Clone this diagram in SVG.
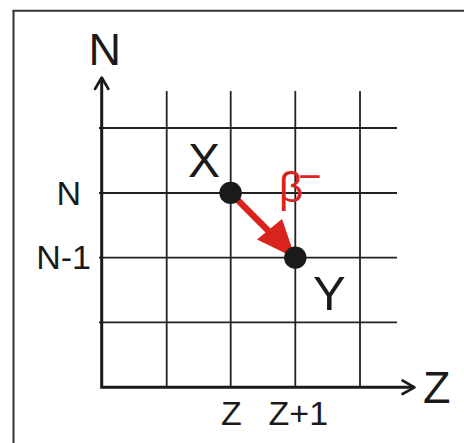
<svg xmlns="http://www.w3.org/2000/svg" width="464" height="443" viewBox="0 0 464 443">
  <style>
    .frame { stroke: #333; stroke-width: 2; fill: none; }
    .grid { stroke: #222; stroke-width: 1.8; fill: none; }
    .axis { stroke: #1a1a1a; stroke-width: 3; fill: none; }
    .chev { stroke: #1a1a1a; stroke-width: 2.6; fill: none; stroke-linecap: round; stroke-linejoin: round; }
    .lbl { font-family: "Liberation Sans", Arial, sans-serif; fill: #1a1a1a; }
    .dot { fill: #1a1a1a; }
    .red { fill: #d8231f; }
  </style>
  <rect width="464" height="443" fill="#fff"/>
  <g id="frame">
    <line class="frame" x1="13.5" y1="443" x2="13.5" y2="10.8"/>
    <line class="frame" x1="12.5" y1="10.8" x2="464" y2="10.8"/>
  </g>
  <g id="grid">
    <line class="grid" x1="166.7" y1="91" x2="166.7" y2="387.3"/>
    <line class="grid" x1="230.7" y1="91" x2="230.7" y2="387.3"/>
    <line class="grid" x1="295.3" y1="91" x2="295.3" y2="387.3"/>
    <line class="grid" x1="360" y1="91" x2="360" y2="387.3"/>
    <line class="grid" x1="99" y1="128" x2="397" y2="128"/>
    <line class="grid" x1="99" y1="193" x2="397" y2="193"/>
    <line class="grid" x1="99" y1="257.7" x2="397" y2="257.7"/>
    <line class="grid" x1="99" y1="322.3" x2="397" y2="322.3"/>
  </g>
  <g id="axes">
    <polyline class="axis" points="101.7,78 101.7,387.3 414,387.3"/>
    <polyline class="chev" points="95,89 101.7,77.5 108.4,89"/>
    <polyline class="chev" points="402.5,380.5 414.5,387.3 402.5,394"/>
    <text class="lbl" x="88.5" y="65" font-size="45">N</text>
    <text class="lbl" x="423" y="403" font-size="45">Z</text>
    <text class="lbl" x="81" y="205" font-size="34" text-anchor="end">N</text>
    <text class="lbl" x="91" y="269.3" font-size="34" text-anchor="end">N-1</text>
    <text class="lbl" x="221" y="425" font-size="34">Z</text>
    <text class="lbl" x="268.6" y="425" font-size="34">Z+1</text>
  </g>
  <g id="connectors">
    <g id="beta-decay">
      <line x1="230.7" y1="193" x2="272" y2="234.5" stroke="#d8231f" stroke-width="6.5"/>
      <polygon class="red" points="295.5,258.3 257,239.5 282,219"/>
      <text class="lbl" x="279" y="202" font-size="42" style="fill:#d8231f">β<tspan dx="-5" dy="-12" font-size="40">−</tspan></text>
    </g>
  </g>
  <g id="node-X">
    <circle class="dot" cx="230.6" cy="192.9" r="11.2"/>
    <text class="lbl" x="188" y="176.7" font-size="48">X</text>
  </g>
  <g id="node-Y">
    <circle class="dot" cx="295.3" cy="257.7" r="11.2"/>
    <text class="lbl" x="313" y="310" font-size="49">Y</text>
  </g>
</svg>
